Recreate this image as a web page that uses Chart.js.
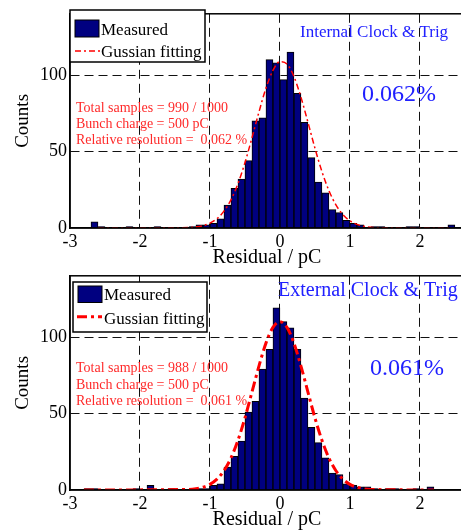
<!DOCTYPE html>
<html>
<head>
<meta charset="utf-8">
<script src="https://cdn.jsdelivr.net/npm/chart.js@4.4.0/dist/chart.umd.min.js"></script>
<style>
body{margin:0;width:461px;height:532px;overflow:hidden;background:#fff;position:relative}
canvas{position:absolute;left:0}
#graphique1{top:0}
#graphique2{top:262px}
</style>
</head>
<body>
<canvas id="graphique1" width="470" height="270"></canvas>
<canvas id="graphique2" width="470" height="270"></canvas>
<script>
// axes
let xTicks=[-3,-2,-1,0,1,2];
let yTicks=[0,50,100];

// histogramme du haut (Internal Clock & Trig), centres des classes de 0.1 pC
let binsHaut=[-2.65,-2.55,-2.15,-1.75,-1.25,-1.15,-1.05,
  -0.95,-0.85,-0.75,-0.65,-0.55,-0.45,-0.35,-0.25,-0.15,-0.05,
  0.05,0.15,0.25,0.35,0.45,0.55,0.65,0.75,0.85,0.95,1.05,1.15,
  1.35,1.45,1.85,1.95,2.45];
let countsHaut=[4,1,1,1,1,2,2,
  3,6,15,26,32,44,70,72,110,108,
  97,115,88,69,46,30,23,12,10,5,3,2,
  1,1,1,1,2];

// histogramme du bas (External Clock & Trig)
let binsBas=[-2.75,-2.65,-2.05,-1.85,-1.55,-1.15,-1.05,
  -0.95,-0.85,-0.75,-0.65,-0.55,-0.45,-0.35,-0.25,-0.15,-0.05,
  0.05,0.15,0.25,0.35,0.45,0.55,0.65,0.75,0.85,0.95,1.05,1.15,
  1.25,1.35,1.55,1.65,1.95,2.15];
let countsBas=[1,1,1,3,1,1,1,
  3,4,15,22,32,51,58,79,92,119,
  110,106,92,60,41,31,21,11,10,4,3,2,
  2,1,1,1,1,2];

// courbes gaussiennes
let fitXHaut=[-2.6,-1.3,-1.2,-1.1,-1.0,-0.9,-0.8,-0.7,-0.6,-0.5,-0.4,-0.3,-0.2,-0.1,0,
  0.1,0.2,0.3,0.4,0.5,0.6,0.7,0.8,0.9,1.0,1.1,1.2,1.3,1.4,2.45];
let fitYHaut=[0,0.3,0.7,1.5,3.2,6.1,11,18.4,29,42.7,58.9,75.8,91.4,103,108.7,
  107.2,99,85.5,69.1,52.2,36.9,24.4,15.1,8.7,4.7,2.4,1.1,0.5,0.2,0];

let fitXBas=[-2.8,-1.3,-1.2,-1.1,-1.0,-0.9,-0.8,-0.7,-0.6,-0.5,-0.4,-0.3,-0.2,-0.1,0,
  0.1,0.2,0.3,0.4,0.5,0.6,0.7,0.8,0.9,1.0,1.1,1.2,1.3,2.2];
let fitYBas=[0,0.4,0.8,1.8,3.7,7.1,12.6,20.9,32.5,47.1,64,81,96,106.3,110,
  106.3,96,81,64,47.1,32.5,20.9,12.6,7.1,3.7,1.8,0.8,0.4,0];

let legendeTextes=['Measured','Gussian fitting'];
let notesHaut=['Total samples = 990 / 1000','Bunch charge = 500 pC','Relative resolution =  0.062 %'];
let notesBas=['Total samples = 988 / 1000','Bunch charge = 500 pC','Relative resolution =  0.061 %'];

const SERIF='"Liberation Serif", "Times New Roman", serif';
const NAVY='#000080';

// dessin du cadre, de la legende et des annotations
function deco(cfg){
  return {
    id:'deco',
    afterDraw(chart){
      const c=chart.ctx, a=chart.chartArea;
      c.save();
      c.strokeStyle='#000';
      c.lineWidth=1.5;
      c.strokeRect(a.left,a.top,a.right-a.left,a.bottom-a.top);

      // legende
      const L=cfg.legend;
      c.fillStyle='#fff';
      c.fillRect(L.x,L.y,L.w,L.h);
      c.lineWidth=1.5;
      c.strokeRect(L.x,L.y,L.w,L.h);
      c.fillStyle=NAVY;
      c.fillRect(L.sw[0],L.sw[1],L.sw[2],L.sw[3]);
      c.lineWidth=1;
      c.strokeRect(L.sw[0],L.sw[1],L.sw[2],L.sw[3]);
      c.strokeStyle='#ff0000';
      c.lineWidth=cfg.lineW;
      c.setLineDash(cfg.dash);
      c.beginPath();
      c.moveTo(L.line[0],L.line[2]);
      c.lineTo(L.line[1],L.line[2]);
      c.stroke();
      c.setLineDash([]);
      c.fillStyle='#000';
      c.font='17px '+SERIF;
      c.textBaseline='alphabetic';
      c.fillText(legendeTextes[0],L.t1[0],L.t1[1]);
      c.fillText(legendeTextes[1],L.t2[0],L.t2[1]);

      // titres bleus
      c.fillStyle='#2020ff';
      c.font=cfg.title.size+'px '+SERIF;
      c.fillText(cfg.title.text,cfg.title.x,cfg.title.y);
      c.font=cfg.big.size+'px '+SERIF;
      c.fillText(cfg.big.text,cfg.big.x,cfg.big.y);

      // notes rouges
      c.fillStyle='#ff2a2a';
      c.font='14px '+SERIF;
      cfg.notes.forEach((t,i)=>c.fillText(t,76,cfg.notesY[i]));
      c.restore();
    }
  };
}

function histo(id,bins,counts,fitX,fitY,cfg){
  var ctx=document.getElementById(id).getContext('2d');
  return new Chart(ctx,{
    data:{
      datasets:[{
        type:'line',
        data:fitX.map((x,i)=>({x:x,y:fitY[i]})),
        borderColor:'#ff0000',
        borderWidth:cfg.lineW,
        borderDash:cfg.dash,
        pointRadius:0,
        cubicInterpolationMode:'monotone',
        order:0
      },{
        type:'bar',
        data:bins.map((x,i)=>({x:x,y:counts[i]})),
        backgroundColor:NAVY,
        borderColor:'#000',
        borderWidth:1,
        barPercentage:1,
        categoryPercentage:1,
        grouped:false,
        order:1
      }]
    },
    options:{
      responsive:false,
      animation:false,
      layout:{padding:{top:10,right:6,left:0,bottom:0}},
      plugins:{legend:{display:false},tooltip:{enabled:false}},
      scales:{
        x:{
          type:'linear',min:-3,max:2.63,offset:false,
          afterFit:s=>{s.height=42;},
          afterBuildTicks:s=>{s.ticks=xTicks.map(v=>({value:v}));},
          ticks:{color:'#000',padding:3,font:{family:SERIF,size:18},maxRotation:0},
          grid:{offset:false,drawTicks:false,color:c=>(c.tick&&c.tick.value===-3)?'rgba(0,0,0,0)':'#111'},
          border:{color:'#000',width:1.5,dash:[9,5]},
          title:{display:true,text:'Residual / pC',color:'#000',padding:{top:0,bottom:0},font:{family:SERIF,size:20}}
        },
        y:{
          min:0,max:140,
          afterFit:s=>{s.width=70;},
          afterBuildTicks:s=>{s.ticks=yTicks.map(v=>({value:v}));},
          ticks:{color:'#000',padding:3,font:{family:SERIF,size:18}},
          grid:{drawTicks:false,color:c=>(c.tick&&c.tick.value===0)?'rgba(0,0,0,0)':'#111'},
          border:{color:'#000',width:1.5,dash:[9,5]},
          title:{display:true,text:'Counts',color:'#000',padding:{top:12,bottom:0},font:{family:SERIF,size:19}}
        }
      }
    },
    plugins:[deco(cfg)]
  });
}

histo('graphique1',binsHaut,countsHaut,fitXHaut,fitYHaut,{
  lineW:1.5,dash:[6,3,2,3],
  legend:{x:70,y:10,w:135,h:52,sw:[75,20,24,17],t1:[101,35],t2:[101,56.5],line:[75,100,51]},
  title:{text:'Internal Clock & Trig',x:300,y:36.5,size:17},
  big:{text:'0.062%',x:362,y:101,size:24},
  notes:notesHaut,notesY:[111.7,127.7,144.3]
});

histo('graphique2',binsBas,countsBas,fitXBas,fitYBas,{
  lineW:3,dash:[10,4,3,4],
  legend:{x:73,y:20,w:134,h:50,sw:[78,24,24,16.5],t1:[104,38],t2:[104,62.3],line:[77,102,54.7]},
  title:{text:'External Clock & Trig',x:278,y:33.7,size:20},
  big:{text:'0.061%',x:370,y:113,size:24},
  notes:notesBas,notesY:[110.3,127,143]
});
</script>
</body>
</html>
